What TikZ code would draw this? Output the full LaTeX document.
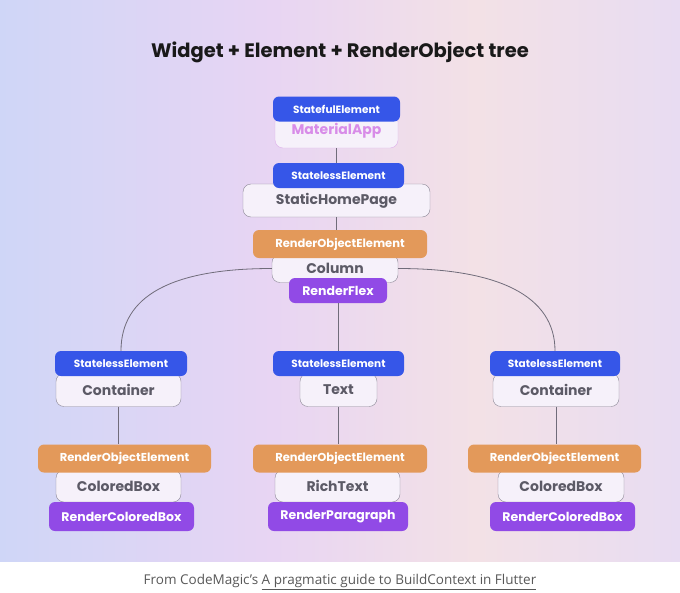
\documentclass[tikz,border=0pt]{standalone}
\usepackage{fontspec}
\setmainfont{Poppins}
\newfontfamily\notefont{Open Sans}
\usetikzlibrary{positioning}

\definecolor{bgL}{RGB}{207,214,247}
\definecolor{bgM}{RGB}{232,213,243}
\definecolor{bgP}{RGB}{243,225,230}
\definecolor{bgR}{RGB}{232,220,242}
\definecolor{elemblue}{RGB}{54,86,232}
\definecolor{roeorange}{RGB}{227,153,90}
\definecolor{rendpurple}{RGB}{145,74,230}
\definecolor{boxfill}{RGB}{246,241,250}
\definecolor{boxline}{RGB}{140,136,150}
\definecolor{boxtext}{RGB}{92,90,102}
\definecolor{apptext}{RGB}{216,140,232}
\definecolor{appline}{RGB}{222,176,234}
\definecolor{linkgray}{RGB}{112,108,122}
\definecolor{notegray}{RGB}{88,88,88}

\pgfdeclarehorizontalshading{panel}{100bp}{color(0bp)=(bgL); color(25bp)=(bgL); color(45bp)=(bgM); color(60bp)=(bgP); color(75bp)=(bgR); color(100bp)=(bgR)}

\begin{document}
\begin{tikzpicture}[
  x=1pt, y=-1pt,
  widget/.style={
    draw=boxline, fill=boxfill, rounded corners=8pt,
    minimum height=33pt, inner sep=0pt, text=boxtext,
    font=\fontsize{14}{16}\selectfont\bfseries
  },
  elem/.style={
    fill=elemblue, rounded corners=6pt, minimum height=25pt,
    inner sep=0pt, text=white,
    font=\fontsize{10.5}{12}\selectfont\bfseries
  },
  roe/.style={elem, fill=roeorange, minimum height=28pt,
    font=\fontsize{11.5}{13}\selectfont\bfseries},
  renderbox/.style={elem, fill=rendpurple, minimum height=29pt,
    font=\fontsize{12.5}{14}\selectfont\bfseries},
  link/.style={draw=linkgray, line width=0.8pt}
]
  \useasboundingbox (0,0) rectangle (680,592);
  \shade[shading=panel] (0,0) rectangle (680,561);

  % Title
  \node[font=\fontsize{19.5}{22}\selectfont\bfseries, text=black!90] (title) at (340,52) {Widget + Element + RenderObject tree};

  % Widgets
  \node[widget, draw=appline, text=apptext, minimum width=123pt, minimum height=34pt] (app) at (336.5,131) {MaterialApp};
  \node[widget, minimum width=187pt] (home) at (336.5,200.5) {StaticHomePage};
  \node[widget, minimum width=126pt, minimum height=28pt] (col) at (335,268.5) {Column};
  \node[widget, minimum width=125pt] (lcont) at (118.5,390) {Container};
  \node[widget, minimum width=77pt] (text) at (338.5,390) {Text};
  \node[widget, minimum width=126pt] (rcont) at (556,390) {Container};
  \node[widget, minimum width=125pt, minimum height=32pt] (lbox) at (118.5,486) {ColoredBox};
  \node[widget, minimum width=125pt, minimum height=32pt] (rich) at (337.5,486) {RichText};
  \node[widget, minimum width=126pt, minimum height=32pt] (rbox) at (561,486) {ColoredBox};

  % Elements
  \node[elem, minimum width=127pt] (appel) at (336.5,109) {StatefulElement};
  \node[elem, minimum width=131pt] (homeel) at (338.5,175.5) {StatelessElement};
  \node[roe, minimum width=174pt] (colel) at (340,244) {RenderObjectElement};
  \node[elem, minimum width=132pt] (lcontel) at (121,363.5) {StatelessElement};
  \node[elem, minimum width=131pt] (textel) at (338.5,363.5) {StatelessElement};
  \node[elem, minimum width=130pt] (rcontel) at (555,363.5) {StatelessElement};
  \node[roe, minimum width=173pt] (lboxel) at (124.5,458.5) {RenderObjectElement};
  \node[roe, minimum width=174pt] (richel) at (340,458.5) {RenderObjectElement};
  \node[roe, minimum width=173pt] (rboxel) at (554.5,458.5) {RenderObjectElement};

  % Render objects
  \node[renderbox, minimum width=98pt, minimum height=25pt] (colro) at (338,290.5) {RenderFlex};
  \node[renderbox, minimum width=145pt] (lboxro) at (121.5,516.5) {RenderColoredBox};
  \node[renderbox, minimum width=140pt] (richro) at (338,516.5) {RenderParagraph};
  \node[renderbox, minimum width=145pt] (rboxro) at (562.5,516.5) {RenderColoredBox};

  % Tree links
  \draw[link] (app.south) -- (app.south |- homeel.north);
  \draw[link] (home.south) -- (home.south |- colel.north);
  \draw[link] (col.west) .. controls +(-100,0) and +(0,-55) .. (lcontel.north);
  \draw[link] (col.east) .. controls +(100,0) and +(0,-55) .. (rcontel.north);
  \draw[link] (colro.south) -- (colro.south |- textel.north);
  \draw[link] (lcont.south) -- (lcont.south |- lboxel.north);
  \draw[link] (text.south) -- (text.south |- richel.north);
  \draw[link] (rcont.south) -- (rcont.south |- rboxel.north);

  % Source
  \node[font=\notefont\fontsize{13.5}{16}\selectfont, text=notegray] (note) at (340,582) {From CodeMagic’s \underline{A pragmatic guide to BuildContext in Flutter}};
\end{tikzpicture}
\end{document}
